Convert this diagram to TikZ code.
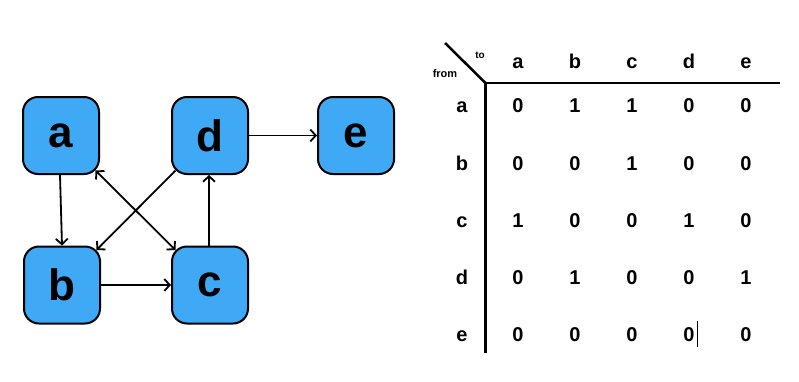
\documentclass[tikz,border=0pt]{standalone}
\usepackage{fontspec}
\setmainfont{Liberation Sans}
\usetikzlibrary{arrows.meta}
\definecolor{nodeblue}{RGB}{64,169,245}
\begin{document}
\begin{tikzpicture}[x=1pt,y=-1pt,
  vtx/.style={draw=black, line width=2pt, fill=nodeblue, rounded corners=15pt,
    minimum width=76pt, minimum height=77pt, inner sep=0pt,
    font=\fontsize{44}{44}\selectfont\bfseries},
  tip/.tip={Straight Barb[length=5.5pt,width=12pt,line width=1.8pt]},
  edge/.style={line width=1.8pt, -tip},
  dedge/.style={line width=1.8pt, tip-tip},
  cell/.style={anchor=base, inner sep=0pt, font=\fontsize{20}{20}\selectfont\bfseries},
  tline/.style={line width=2.5pt},
  small/.style={anchor=base, inner sep=0pt, font=\fontsize{11}{11}\selectfont\bfseries}
]
\useasboundingbox (0,0) rectangle (799,381);
% graph
\node[vtx] (a) at (61,135.5) {a};
\node[vtx] (d) at (210,135.5) {d};
\node[vtx] (e) at (356,135.5) {e};
\node[vtx] (b) at (62,285) {b};
\node[vtx] (c) at (210,285) {c};
\draw[edge] ([xshift=-1pt]a.south) -- ([xshift=0pt]b.north);
\draw[edge] (b.east) -- (c.west);
\draw[edge] ([xshift=-1pt]c.north) -- ([xshift=-1pt]d.south);
\draw[edge] (d.east) -- (e.west);
\draw[edge] ([shift={(4.5,-4.5)}]d.south west) -- ([shift={(-4.5,4.5)}]b.north east);
\draw[dedge] ([shift={(-4.5,-4.5)}]a.south east) -- ([shift={(4.5,4.5)}]c.north west);
% table
\coordinate (dg) at (445,43);
\coordinate (o) at (485.5,83);
\coordinate (hr) at (780,83);
\coordinate (vb) at (485.5,353);
\draw[tline] (dg) -- (o);
\draw[tline] (o) -- (hr);
\draw[tline] (o) -- (vb);
\node[small, font=\fontsize{10}{10}\selectfont\bfseries] (to) at (480,58) {to};
\node[small] (from) at (445,77) {from};
\foreach \l [count=\i] in {a,b,c,d,e}{
  \pgfmathsetmacro{\cx}{518+(\i-1)*57}
  \node[cell] (h\i) at (\cx,68) {\l};
}
\foreach \l/\y [count=\i] in {a/112,b/170,c/227,d/284,e/341}{
  \node[cell] (r\i) at (462,\y) {\l};
}
\foreach \row/\y [count=\i] in {{0,1,1,0,0}/112,{0,0,1,0,0}/170,{1,0,0,1,0}/227,{0,1,0,0,1}/284,{0,0,0,0,0}/341}{
  \foreach \v [count=\j] in \row {
    \pgfmathsetmacro{\cx}{518+(\j-1)*57}
    \node[cell] (m\i\j) at (\cx,\y) {\v};
  }
}
\draw[line width=1pt] (697,321) -- (697,347);
\end{tikzpicture}
\end{document}
